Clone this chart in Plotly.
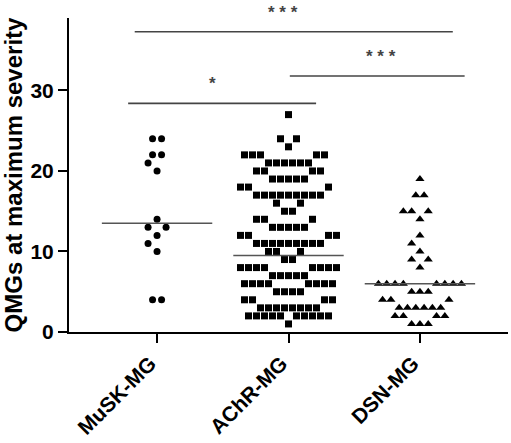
import plotly.graph_objects as go

# ── data ─────────────────────────────────────────────────────────────────────
groups = ["MuSK-MG", "AChR-MG", "DSN-MG"]

musk_scores = [24, 22, 21, 20, 14, 13, 12, 11, 10, 4]
musk_counts = [2, 2, 1, 1, 1, 2, 1, 1, 1, 2]

achr_scores = [27, 24, 23, 22, 21, 20, 19, 18, 17, 16, 15, 14, 13,
               12, 11, 10, 9, 8, 7, 6, 5, 4, 3, 2, 1]
achr_counts = [1, 2, 1, 5, 6, 4, 5, 3, 9, 2, 2, 3, 5,
               4, 9, 3, 2, 8, 5, 8, 4, 4, 8, 10, 1]

dsn_scores = [19, 17, 15, 14, 12, 11, 10, 9, 8, 6, 5, 4, 3, 2, 1]
dsn_counts = [1, 2, 3, 1, 1, 1, 1, 2, 1, 8, 3, 3, 6, 4, 3]

medians = [13.5, 9.5, 6]

# pairwise comparisons: (label, bar height)
sig_labels = ["* * *", "* * *", "*"]
sig_levels = [37.3, 31.8, 28.4]

# ── geometry ──────────────────────────────────────────────────────────────────
W, H = 511, 443
M = dict(l=69, r=3, t=18, b=111)
XR = [-0.67, 2.67]
YR = [0, 39]
PX_PER_X = (W - M["l"] - M["r"]) / (XR[1] - XR[0])

FONT = "Liberation Sans, Arial, sans-serif"


def swarm(scores, counts, pitch_px):
    """Prism-like column scatter: rows alternate centred / split around the row below."""
    pitch = pitch_px / PX_PER_X
    xs, ys = [], []
    prev_s, prev_n, prev_split = None, 0, True
    for s, n in sorted(zip(scores, counts)):
        split = prev_s is not None and s - prev_s == 1 and not prev_split
        if split:
            inner = (prev_n - 1) / 2 + 1
            offs = [(-1 if i % 2 == 0 else 1) * (inner + i // 2) for i in range(n)]
        else:
            offs = [i - (n - 1) / 2 for i in range(n)]
        xs += [o * pitch for o in offs]
        ys += [s] * n
        prev_s, prev_n, prev_split = s, n, split
    return xs, ys


series = [
    (musk_scores, musk_counts, "circle", 7, 9.0),
    (achr_scores, achr_counts, "square", 7, 8.0),
    (dsn_scores, dsn_counts, "triangle-up", 8, 8.3),
]

fig = go.Figure()
for gi, (sc, cn, sym, size, pitch) in enumerate(series):
    dx, ys = swarm(sc, cn, pitch)
    fig.add_trace(go.Scatter(
        x=[gi + d for d in dx], y=ys, mode="markers",
        marker=dict(symbol=sym, size=size, color="black", line=dict(width=0)),
        showlegend=False, cliponaxis=False,
    ))

# median lines
for gi, m in enumerate(medians):
    fig.add_shape(type="line", x0=gi - 0.42, x1=gi + 0.42, y0=m, y1=m,
                  xref="x", yref="y", line=dict(color="#555", width=1.5))

# significance bars
bar_spans = [(-0.17, 2.25), (1.01, 2.34), (-0.22, 1.21)]
label_x = [0.96, 1.70, 0.42]
for (x0, x1), lvl, lab, lx in zip(bar_spans, sig_levels, sig_labels, label_x):
    fig.add_shape(type="line", x0=x0, x1=x1, y0=lvl, y1=lvl, xref="x", yref="y",
                  line=dict(color="#444", width=1.6))
    fig.add_annotation(x=lx, y=lvl + 1.0, xref="x", yref="y", text=lab,
                       showarrow=False, yanchor="bottom",
                       font=dict(family=FONT, size=17, color="#444", weight="bold"))

fig.update_layout(
    width=W, height=H, margin=M,
    paper_bgcolor="white", plot_bgcolor="white",
    font=dict(family=FONT, color="black"),
    xaxis=dict(
        range=XR, tickvals=[0, 1, 2], ticktext=groups, tickangle=-45,
        showline=True, linecolor="black", linewidth=2,
        ticks="outside", ticklen=9, tickwidth=2, tickcolor="black",
        showgrid=False, zeroline=False, automargin=False, ticklabelshift=-7,
        tickfont=dict(family=FONT, size=21, weight="bold", color="black"),
    ),
    yaxis=dict(
        range=YR, tickvals=[0, 10, 20, 30],
        showline=True, linecolor="black", linewidth=2,
        ticks="outside", ticklen=9, tickwidth=2, tickcolor="black",
        showgrid=False, zeroline=False, automargin=False,
        tickfont=dict(family=FONT, size=21, weight="bold", color="black"),
        title=dict(text="QMGs at maximum severity", standoff=6,
                   font=dict(family=FONT, size=24, weight="bold", color="black")),
    ),
)

# page body has a default margin; drop it so the figure sits at the window corner
fig.write_html("out.html", config={"displayModeBar": False},
               post_script="document.body.style.margin='0';")
